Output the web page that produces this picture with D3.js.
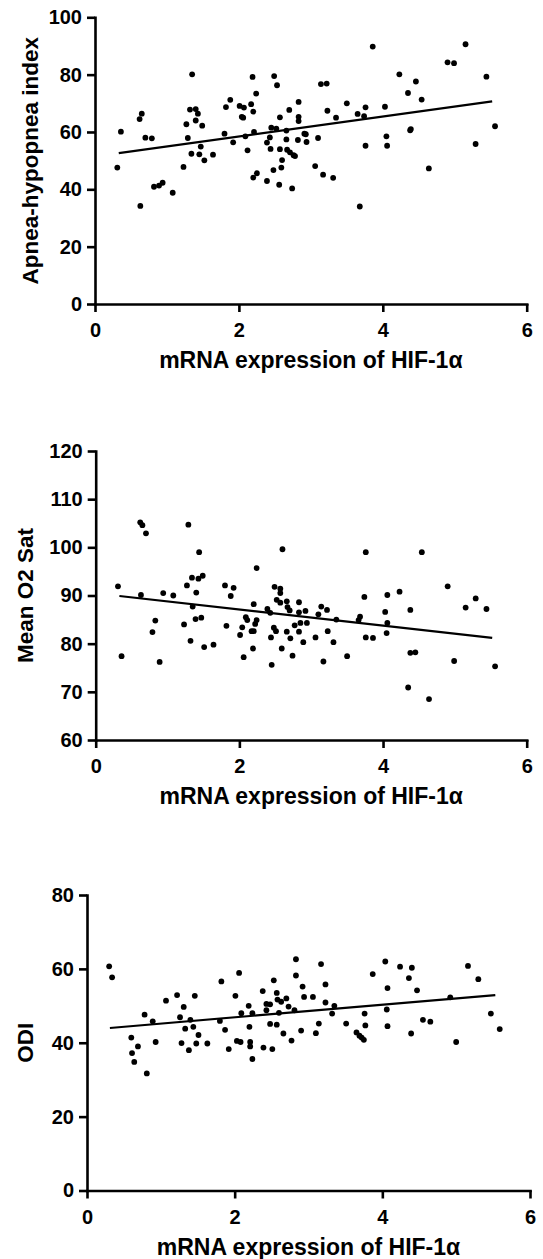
<!DOCTYPE html>
<html>
<head>
<meta charset="utf-8">
<script src="https://cdn.jsdelivr.net/npm/d3@7"></script>
<style>
  body { margin: 0; background: #fff; }
  svg { display: block; }
</style>
</head>
<body>
<div id="chart"></div>
<script>
const xLabel = 'mRNA expression of HIF-1α'
const xTicks = [0, 2, 4, 6]

// AHI panel
const ahiX = [0.31,0.36,0.62,0.65,0.63,0.70,0.79,0.82,0.89,0.94,1.08,1.23,1.27,1.29,1.32,1.35,1.34,1.40,1.43,1.40,1.49,1.45,1.47,1.52,1.64,1.80,1.82,1.88,1.92,2.01,2.04,2.07,2.06,2.09,2.12,2.17,2.19,2.20,2.21,2.20,2.25,2.24,2.39,2.39,2.43,2.44,2.45,2.49,2.48,2.52,2.53,2.57,2.57,2.56,2.59,2.60,2.66,2.66,2.67,2.70,2.71,2.74,2.76,2.78,2.83,2.83,2.83,2.82,2.91,2.94,2.93,3.06,3.10,3.14,3.22,3.17,3.23,3.31,3.35,3.50,3.65,3.68,3.74,3.76,3.76,3.86,4.03,4.05,4.06,4.23,4.35,4.38,4.39,4.46,4.54,4.64,4.90,4.99,5.15,5.29,5.44,5.56]
const ahiY = [47.6,60.1,64.5,66.4,34.2,58.0,57.8,40.9,41.3,42.3,38.8,47.8,62.7,57.9,67.8,80.1,52.4,68.0,66.4,64.0,62.2,52.2,54.9,50.1,52.1,59.4,68.7,71.2,56.4,69.1,65.3,68.5,65.0,58.5,53.6,69.7,79.2,67.1,60.0,44.1,45.6,73.4,42.9,56.3,58.1,54.1,61.5,79.5,46.7,61.2,76.3,65.1,54.0,41.6,47.6,50.2,60.5,57.4,53.8,67.7,52.9,40.3,51.9,51.6,70.5,65.3,63.8,57.2,59.4,56.5,59.2,48.1,57.9,76.7,76.9,45.1,67.4,44.0,65.0,70.0,66.3,34.0,65.5,68.6,55.2,89.8,68.8,58.5,55.2,80.1,73.6,60.6,61.0,77.6,71.3,47.3,84.3,84.0,90.6,55.8,79.3,62.0]
const ahiFitX = [0.33, 5.52]
const ahiFitY = [52.6, 70.7]
const ahiTicks = [0, 20, 40, 60, 80, 100]

// mean O2 sat panel
const o2X = [0.31,0.36,0.62,0.65,0.70,0.63,0.79,0.83,0.89,0.94,1.08,1.23,1.27,1.29,1.32,1.35,1.34,1.40,1.39,1.43,1.44,1.47,1.49,1.51,1.64,1.80,1.82,1.88,1.92,2.01,2.04,2.06,2.09,2.11,2.17,2.20,2.19,2.20,2.22,2.24,2.24,2.39,2.43,2.44,2.45,2.49,2.48,2.51,2.52,2.57,2.57,2.57,2.59,2.60,2.66,2.67,2.66,2.70,2.71,2.74,2.77,2.83,2.83,2.83,2.85,2.89,2.92,2.94,3.06,3.10,3.14,3.17,3.22,3.23,3.31,3.35,3.50,3.66,3.68,3.74,3.76,3.76,3.86,4.03,4.06,4.05,4.06,4.23,4.35,4.38,4.38,4.45,4.54,4.64,4.90,4.99,5.15,5.29,5.44,5.56]
const o2Y = [91.9,77.4,105.2,104.6,102.9,90.1,82.4,84.8,76.2,90.5,90.0,84.0,92.1,104.7,80.6,87.7,93.7,90.6,85.1,93.5,99.0,85.4,94.1,79.3,79.8,92.1,83.7,89.9,91.6,81.8,83.4,77.2,85.5,84.9,82.6,82.6,79.0,88.2,84.1,84.9,95.7,87.2,86.4,81.3,75.6,91.8,83.3,82.6,89.1,91.4,90.5,88.5,79.0,99.6,88.8,87.6,82.5,86.9,81.1,77.5,83.8,88.6,86.5,82.5,84.3,80.3,86.8,84.3,81.3,86.1,87.7,76.3,87.0,82.6,80.3,85.0,77.4,84.9,85.6,89.7,81.3,99.0,81.2,86.6,84.3,82.2,90.1,90.8,70.9,78.1,87.0,78.2,99.0,68.5,91.9,76.4,87.5,89.4,87.2,75.3]
const o2FitX = [0.33, 5.52]
const o2FitY = [89.9, 81.2]
const o2Ticks = [60, 70, 80, 90, 100, 110, 120]

// ODI panel
const odiX = [0.30,0.34,0.60,0.69,0.61,0.64,0.81,0.78,0.89,0.93,1.07,1.22,1.26,1.31,1.28,1.33,1.38,1.40,1.44,1.46,1.48,1.51,1.63,1.80,1.82,1.87,1.92,2.01,2.03,2.06,2.08,2.09,2.19,2.20,2.21,2.21,2.24,2.24,2.38,2.39,2.43,2.43,2.48,2.48,2.51,2.53,2.57,2.57,2.58,2.60,2.63,2.66,2.70,2.73,2.77,2.83,2.83,2.81,2.90,2.92,2.94,3.06,3.10,3.14,3.17,3.23,3.23,3.32,3.35,3.51,3.65,3.69,3.72,3.75,3.76,3.77,3.87,4.04,4.06,4.07,4.07,4.24,4.36,4.40,4.39,4.47,4.55,4.65,4.92,5.00,5.16,5.30,5.47,5.59]
const odiY = [60.7,57.7,41.4,39.0,37.2,34.8,31.7,47.6,45.8,40.2,51.4,52.9,46.9,49.7,39.9,43.8,38.0,46.2,44.3,52.7,39.8,42.1,39.8,45.9,56.6,43.5,38.3,52.7,40.5,58.9,40.2,48.0,50.0,44.3,40.2,39.0,35.6,48.0,54.0,38.7,50.5,48.8,50.4,45.1,38.3,56.9,53.5,44.9,51.7,48.1,51.1,42.5,52.0,49.8,40.6,62.6,58.2,48.8,43.3,55.2,52.4,52.4,42.6,45.2,61.3,55.8,50.9,47.9,50.0,45.2,42.8,41.9,41.4,40.8,47.9,44.7,58.6,62.0,49.0,54.8,44.5,60.6,57.5,60.3,42.5,54.2,46.2,45.7,52.3,40.2,60.8,57.2,47.9,43.7]
const odiFitX = [0.31, 5.53]
const odiFitY = [44.0, 52.9]
const odiTicks = [0, 20, 40, 60, 80]

const width = 543, height = 1259
const font = "'Liberation Sans', Arial, sans-serif"

const panels = [
  {xs: ahiX, ys: ahiY, fx: ahiFitX, fy: ahiFitY, ticks: ahiTicks, yLabel: 'Apnea-hypopnea index',
   left: 95, right: 526.7, top: 17.3, bottom: 304, labelX: 30},
  {xs: o2X, ys: o2Y, fx: o2FitX, fy: o2FitY, ticks: o2Ticks, yLabel: 'Mean O2 Sat',
   left: 95.7, right: 526.7, top: 451, bottom: 740, labelX: 25},
  {xs: odiX, ys: odiY, fx: odiFitX, fy: odiFitY, ticks: odiTicks, yLabel: 'ODI',
   left: 87, right: 530, top: 895, bottom: 1190.5, labelX: 25},
]

const svg = d3.select('#chart')
  .append('svg')
  .attr('width', width)
  .attr('height', height)

function styleAxis(sel) {
  sel.attr('font-size', null).attr('font-family', null)
  sel.select('.domain')
    .attr('stroke', '#000')
    .attr('stroke-width', 2.6)
    .attr('stroke-linecap', 'square')
  sel.selectAll('.tick line')
    .attr('stroke', '#000')
    .attr('stroke-width', 2.6)
  sel.selectAll('.tick text')
    .attr('fill', '#000')
    .attr('font-family', font)
    .attr('font-weight', 'bold')
    .attr('font-size', '20px')
}

function drawPanel(p) {
  const x = d3.scaleLinear().domain([0, 6]).range([p.left, p.right])
  const y = d3.scaleLinear()
    .domain([p.ticks[0], p.ticks[p.ticks.length - 1]])
    .range([p.bottom, p.top])

  const g = svg.append('g')

  g.append('g')
    .attr('transform', 'translate(0,' + p.bottom + ')')
    .call(d3.axisBottom(x).tickValues(xTicks).tickFormat(d3.format('d'))
      .tickSize(8).tickSizeOuter(0).tickPadding(11))
    .call(styleAxis)

  g.append('g')
    .attr('transform', 'translate(' + p.left + ',0)')
    .call(d3.axisLeft(y).tickValues(p.ticks).tickFormat(d3.format('d'))
      .tickSize(8).tickSizeOuter(0).tickPadding(5))
    .call(styleAxis)

  const pts = p.xs.map((v, i) => ({x: v, y: p.ys[i]}))
  g.selectAll('circle')
    .data(pts)
    .enter()
    .append('circle')
    .attr('cx', (d) => x(d.x))
    .attr('cy', (d) => y(d.y))
    .attr('r', 2.9)
    .attr('fill', '#000')

  const fit = p.fx.map((v, i) => ({x: v, y: p.fy[i]}))
  const line = d3.line().x((d) => x(d.x)).y((d) => y(d.y))
  g.append('path')
    .datum(fit)
    .attr('d', line)
    .attr('fill', 'none')
    .attr('stroke', '#000')
    .attr('stroke-width', 2.2)

  g.append('text')
    .attr('font-family', font)
    .attr('font-weight', 'bold')
    .attr('font-size', '23px')
    .attr('text-anchor', 'middle')
    .attr('x', (p.left + p.right) / 2)
    .attr('y', p.bottom + 56)
    .attr('dy', '0.35em')
    .text(xLabel)

  g.append('text')
    .attr('font-family', font)
    .attr('font-weight', 'bold')
    .attr('font-size', '22.5px')
    .attr('text-anchor', 'middle')
    .attr('transform', 'translate(' + p.labelX + ',' + (p.top + p.bottom) / 2 + ') rotate(-90)')
    .attr('dy', '0.35em')
    .text(p.yLabel)
}

panels.forEach(drawPanel)
</script>
</body>
</html>
